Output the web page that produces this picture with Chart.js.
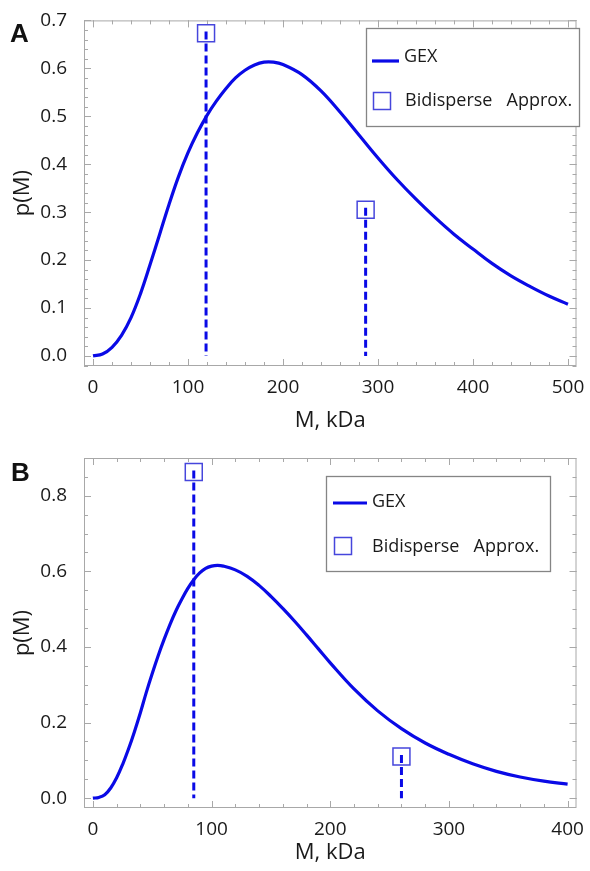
<!DOCTYPE html>
<html><head><meta charset="utf-8">
<script src="https://cdn.jsdelivr.net/npm/chart.js@4/dist/chart.umd.min.js"></script>
<style>
html,body{margin:0;padding:0;background:#fff;}
body{width:590px;height:871px;position:relative;overflow:hidden;}
.panel{position:absolute;left:0;width:590px;}
#wa{top:0;height:435px;}
#wb{top:435px;height:436px;}
.lbl{position:absolute;font:bold 26px "Liberation Sans",Arial,sans-serif;color:#111;line-height:1;}
</style></head><body>
<div class="panel" id="wa"><canvas id="ca" width="590" height="435"></canvas></div>
<div class="panel" id="wb"><canvas id="cb" width="590" height="436"></canvas></div>
<div class="lbl" style="left:10px;top:20px">A</div>
<div class="lbl" style="left:11px;top:459px">B</div>
<script>
// ---------- Panel A data ----------
const massA = [0,10,20,30,40,50,60,70,80,90,100,110,120,130,140,150,160,170,180,190,200,
               220,240,260,280,300,320,340,360,380,400,420,440,460,480,500];
const gexA  = [0,0.004,0.018,0.043,0.08,0.13,0.19,0.253,0.316,0.374,0.424,0.466,0.502,0.532,0.558,0.58,0.596,0.607,0.613,0.613,0.608,
               0.587,0.553,0.509,0.461,0.413,0.368,0.327,0.289,0.254,0.223,0.193,0.167,0.145,0.125,0.108];
const bidiMassA = [119, 287];
const bidiProbA = [0.673, 0.305];
const xTicksA = [0,100,200,300,400,500];
const yTicksA = [0,0.1,0.2,0.3,0.4,0.5,0.6,0.7];

// ---------- Panel B data ----------
const massB = [0,5,10,15,20,25,30,35,40,45,50,55,60,65,70,75,80,85,90,95,100,105,110,
               120,130,140,150,160,170,180,190,200,220,240,260,280,300,320,340,360,380,400];
const gexB  = [0,0.002,0.009,0.027,0.054,0.089,0.13,0.176,0.226,0.28,0.33,0.377,0.42,0.46,0.496,0.527,0.555,0.578,0.596,0.608,0.614,0.616,0.614,
               0.604,0.587,0.563,0.534,0.502,0.468,0.432,0.395,0.358,0.289,0.231,0.184,0.146,0.116,0.091,0.071,0.056,0.045,0.037];
const bidiMassB = [85, 260];
const bidiProbB = [0.863, 0.11];
const xTicksB = [0,100,200,300,400];
const yTicksB = [0,0.2,0.4,0.6,0.8];

const seriesLabels = ['GEX', 'Bidisperse   Approx.'];
const BLUE = '#0a0ae6';
const MARK = '#4646dc';
const FRAME = '#a8a8a8';
const TXT = '#1a1a1a';
const FONT = '"Open Sans", "Noto Sans", sans-serif';

// frame with inward ticks on all four sides
const frameTicks = {
  id: 'frameTicks',
  beforeDatasetsDraw(chart, args, o) {
    const {ctx, chartArea: a, scales: {x, y}} = chart;
    ctx.save();
    ctx.strokeStyle = FRAME; ctx.lineWidth = 1;
    ctx.strokeRect(a.left + 0.5, a.top + 0.5, a.right - a.left - 1, a.bottom - a.top - 1);
    const seg = (x1, y1, x2, y2) => { ctx.beginPath(); ctx.moveTo(x1, y1); ctx.lineTo(x2, y2); ctx.stroke(); };
    const xs = (step, len) => {
      for (let n = Math.ceil(x.min / step); n * step <= x.max + 1e-9; n++) {
        const px = Math.round(x.getPixelForValue(n * step)) + 0.5;
        seg(px, a.bottom, px, a.bottom - len); seg(px, a.top, px, a.top + len);
      }
    };
    const ys = (step, len) => {
      for (let n = Math.ceil(y.min / step - 1e-9); n * step <= y.max + 1e-9; n++) {
        const py = Math.round(y.getPixelForValue(n * step)) + 0.5;
        seg(a.left, py, a.left + len, py); seg(a.right, py, a.right - len, py);
      }
    };
    xs(o.xMinor, 4); xs(o.xMajor, 7);
    ys(o.yMinor, 4); ys(o.yMajor, 7);
    ctx.restore();
  }
};

// boxed legend
const boxLegend = {
  id: 'boxLegend',
  afterDraw(chart, args, o) {
    const ctx = chart.ctx;
    const [x1, y1, x2, y2] = o.box;
    ctx.save();
    ctx.fillStyle = '#fff';
    ctx.fillRect(x1, y1, x2 - x1, y2 - y1);
    ctx.strokeStyle = '#858585'; ctx.lineWidth = 1.3;
    ctx.strokeRect(x1 + 0.5, y1 + 0.5, x2 - x1, y2 - y1);
    const lineDs = chart.data.datasets[0];
    const markDs = chart.data.datasets[chart.data.datasets.length - 1];
    ctx.strokeStyle = lineDs.borderColor; ctx.lineWidth = lineDs.borderWidth;
    ctx.beginPath(); ctx.moveTo(o.line[0], o.line[2]); ctx.lineTo(o.line[1], o.line[2]); ctx.stroke();
    ctx.strokeStyle = markDs.borderColor; ctx.lineWidth = markDs.borderWidth;
    const s = o.rect[2];
    ctx.strokeRect(o.rect[0] - s / 2, o.rect[1] - s / 2, s, s);
    ctx.fillStyle = TXT; ctx.font = '18px ' + FONT; ctx.textBaseline = 'middle'; ctx.textAlign = 'left';
    ctx.fillText(lineDs.label, o.text1[0], o.text1[1]);
    ctx.fillText(markDs.label, o.text2[0], o.text2[1]);
    ctx.restore();
  }
};

function makeChart(id, mass, gex, bMass, bProb, xTicks, yTicks, cfg) {
  const datasets = [{
    label: seriesLabels[0],
    data: mass.map((m, i) => ({x: m, y: gex[i]})),
    borderColor: BLUE, borderWidth: 3.2, pointRadius: 0,
    tension: 0.4, fill: false
  }];
  bMass.forEach((m, i) => datasets.push({
    label: 'stem' + i,
    data: [{x: m, y: bProb[i] + 0.004}, {x: m, y: 0}],
    borderColor: BLUE, borderWidth: 3, borderDash: [8, 4], pointRadius: 0, fill: false, tension: 0
  }));
  datasets.push({
    label: seriesLabels[1],
    data: bMass.map((m, i) => ({x: m, y: bProb[i]})),
    showLine: false, pointStyle: 'rect', pointRadius: 12, pointHoverRadius: 12,
    borderColor: MARK, backgroundColor: 'rgba(0,0,0,0)', borderWidth: 1.5
  });
  return new Chart(document.getElementById(id), {
    type: 'line',
    data: {datasets},
    options: {
      responsive: false, animation: false, events: [],
      layout: {padding: {left: 0, top: cfg.top, right: cfg.right, bottom: 0}},
      plugins: {
        legend: {display: false}, tooltip: {enabled: false},
        frameTicks: cfg.ticks, boxLegend: cfg.legend
      },
      scales: {
        x: {
          type: 'linear', min: cfg.xMin, max: cfg.xMax,
          grid: {display: false}, border: {display: false},
          afterBuildTicks: s => { s.ticks = xTicks.map(v => ({value: v})); },
          afterFit: s => { s.height = cfg.xHeight; },
          ticks: {autoSkip: false, maxRotation: 0, padding: cfg.xPad, color: TXT, font: {family: FONT, size: 19}},
          title: {display: true, text: 'M, kDa', color: TXT, font: {family: FONT, size: 22, lineHeight: 1},
                  padding: {top: 0, bottom: cfg.xTitlePad}}
        },
        y: {
          type: 'linear', min: cfg.yMin, max: cfg.yMax,
          grid: {display: false}, border: {display: false},
          afterBuildTicks: s => { s.ticks = yTicks.map(v => ({value: v})); },
          afterFit: s => { s.width = 84; },
          ticks: {autoSkip: false, padding: 9, color: TXT, font: {family: FONT, size: 19},
                  callback: v => Number(v).toFixed(1)},
          title: {display: true, text: 'p(M)', color: TXT, font: {family: FONT, size: 22, lineHeight: 1},
                  padding: {top: 12, bottom: 0}}
        }
      }
    },
    plugins: [frameTicks, boxLegend]
  });
}

makeChart('ca', massA, gexA, bidiMassA, bidiProbA, xTicksA, yTicksA, {
  top: 19, right: 10, xHeight: 69, xPad: 2, xTitlePad: 3,
  xMin: -9.5, xMax: 509, yMin: -0.021, yMax: 0.7,
  ticks: {xMajor: 100, xMinor: 20, yMajor: 0.1, yMinor: 0.02},
  legend: {box: [366, 28, 579, 126], line: [372, 399, 61], rect: [382, 101, 17],
           text1: [404, 57], text2: [405, 101]}
});
makeChart('cb', massB, gexB, bidiMassB, bidiProbB, xTicksB, yTicksB, {
  top: 23, right: 8, xHeight: 63, xPad: 2, xTitlePad: 7,
  xMin: -7.5, xMax: 407.5, yMin: -0.026, yMax: 0.9,
  ticks: {xMajor: 100, xMinor: 20, yMajor: 0.2, yMinor: 0.05},
  legend: {box: [326, 41, 550, 136], line: [333, 367, 68], rect: [343, 111, 17],
           text1: [372, 67], text2: [372, 112]}
});
</script>
</body></html>
